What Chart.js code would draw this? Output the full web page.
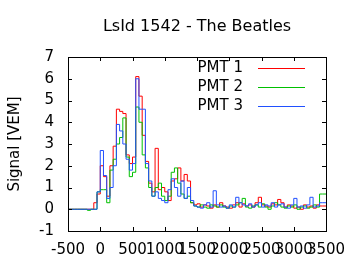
<!DOCTYPE html>
<html>
<head>
<meta charset="utf-8">
<script src="https://cdn.jsdelivr.net/npm/chart.js@4/dist/chart.umd.min.js"></script>
<style>
  html, body { margin: 0; padding: 0; background: #fff; }
  #wrap { width: 360px; height: 270px; }
</style>
</head>
<body>
<div id="wrap"><canvas id="trace"></canvas></div>
<script>
const titleText = "LsId 1542 - The Beatles";
const yLabel = "Signal [VEM]";
const binStart = -500;
const binWidth = 50;
const seriesNames = ["PMT 1", "PMT 2", "PMT 3"];
const seriesColors = ["#ff0000", "#00c000", "#2050ff"];

// signal per 50 ns bin, starting at -500
const pmt1 = [
  0, 0, 0, 0, 0, 0, 0, 0, 0, 0.3,
  0.7, 2.0, 1.5, 0.6, 2.0, 2.9, 4.6, 4.5, 4.4, 2.5,
  2.1, 2.4, 6.1, 5.2, 3.4, 2.2, 1.2, 0.8, 2.8, 0.9,
  1.0, 0.8, 0.4, 1.3, 1.4, 1.9, 1.3, 1.6, 1.3, 0.3,
  0.2, 0.25, 0.1, 0.2, 0.15, 0.05, 0.2, 0.1, 0.3, 0.15,
  0.1, 0.05, 0.2, 0.3, 0.1, 0.25, 0.15, 0.2, 0.1, 0.3,
  0.55, 0.2, 0.15, 0.1, 0.25, 0.2, 0.45, 0.3, 0.1, 0.2,
  0.15, 0.05, 0.1, 0.0, 0.2, 0.1, 0.15, 0.05, 0.2, 0.15
];
const pmt2 = [
  -0.05, 0, 0, 0, 0, 0, 0, -0.05, 0, 0,
  0.8, 0.9, 0.9, 0.3, 1.8, 2.3, 3.0, 3.3, 4.2, 2.4,
  1.5, 1.7, 4.7, 4.0, 2.5, 1.9, 1.0, 0.6, 1.0, 1.2,
  0.6, 0.4, 0.6, 1.7, 1.9, 1.2, 0.7, 0.5, 0.6, 0.3,
  0.15, 0.1, 0.2, 0.1, 0.05, 0.2, 0.15, 0.1, 0.2, 0.1,
  0.05, 0.15, 0.1, 0.2, 0.3, 0.5, 0.1, 0.05, 0.15, 0.2,
  0.1, 0.25, 0.1, 0.0, 0.15, 0.3, 0.2, 0.1, 0.05, 0.15,
  0.1, 0.2, 0.0, 0.1, 0.15, 0.05, 0.1, 0.2, 0.1, 0.7
];
const pmt3 = [
  0, 0, 0, 0, 0, 0, 0, 0, 0, 0,
  0.8, 2.7, 1.55, 0.5, 1.0, 2.0, 3.9, 3.6, 3.0, 2.3,
  1.8, 2.1, 6.0, 4.6, 4.6, 2.1, 1.3, 0.6, 0.8, 0.5,
  0.4, 0.3, 0.9, 1.4, 1.0, 0.6, 1.3, 0.5, 1.0, 0.4,
  0.15, 0.1, 0.05, 0.2, 0.3, 0.1, 0.85, 0.2, 0.1, 0.15,
  0.05, 0.2, 0.1, 0.55, 0.3, 0.2, 0.15, 0.25, 0.1, 0.2,
  0.3, 0.1, 0.2, 0.15, 0.3, 0.1, 0.2, 0.25, 0.1, 0.05,
  0.2, 0.5, 0.1, 0.15, 0.05, 0.2, 0.55, 0.1, 0.15, 0.3
];

const FONT = "'DejaVu Sans', sans-serif";

function toPoints(values) {
  let pts = values.map((v, i) => ({ x: binStart + i * binWidth, y: v }));
  pts.push({ x: binStart + values.length * binWidth, y: values[values.length - 1] });
  return pts;
}

// gnuplot-like frame, inward ticks, title, y label and legend
const framePlugin = {
  id: "frame",
  afterDraw(chart) {
    const { ctx, chartArea: a, scales } = chart;
    ctx.save();
    ctx.strokeStyle = "#000";
    ctx.lineWidth = 1;
    ctx.strokeRect(Math.round(a.left) + 0.5, Math.round(a.top) + 0.5,
      Math.round(a.right - a.left), Math.round(a.bottom - a.top));
    ctx.beginPath();
    scales.x.ticks.forEach((t) => {
      let px = Math.round(scales.x.getPixelForValue(t.value)) + 0.5;
      ctx.moveTo(px, a.bottom); ctx.lineTo(px, a.bottom - 4);
      ctx.moveTo(px, a.top); ctx.lineTo(px, a.top + 4);
    });
    scales.y.ticks.forEach((t) => {
      let py = Math.round(scales.y.getPixelForValue(t.value)) + 0.5;
      ctx.moveTo(a.left, py); ctx.lineTo(a.left + 4, py);
      ctx.moveTo(a.right, py); ctx.lineTo(a.right - 4, py);
    });
    ctx.stroke();

    ctx.fillStyle = "#000";
    ctx.font = "16px " + FONT;
    ctx.textAlign = "center";
    ctx.textBaseline = "middle";
    ctx.fillText(titleText, (a.left + a.right) / 2, 27);

    ctx.save();
    ctx.translate(15, (a.top + a.bottom) / 2);
    ctx.rotate(-Math.PI / 2);
    ctx.font = "15px " + FONT;
    ctx.fillText(yLabel, 0, 0);
    ctx.restore();

    ctx.font = "15px " + FONT;
    ctx.textAlign = "right";
    seriesNames.forEach((name, i) => {
      let y = 68 + i * 19;
      ctx.fillStyle = "#000";
      ctx.fillText(name, 243, y);
      ctx.strokeStyle = seriesColors[i];
      ctx.beginPath();
      ctx.moveTo(258, y + 0.5);
      ctx.lineTo(305, y + 0.5);
      ctx.stroke();
    });
    ctx.restore();
  },
};

const ctx = document.getElementById("trace").getContext("2d");
new Chart(ctx, {
  type: "line",
  data: {
    datasets: [pmt1, pmt2, pmt3].map((vals, i) => ({
      label: seriesNames[i],
      data: toPoints(vals),
      borderColor: seriesColors[i],
      borderWidth: 1,
      pointRadius: 0,
      stepped: "after",
      fill: false,
      order: 3 - i,
    })),
  },
  options: {
    responsive: true,
    maintainAspectRatio: false,
    animation: false,
    layout: { padding: { left: 0, right: 34, top: 57, bottom: 0 } },
    plugins: {
      legend: { display: false },
      title: { display: false },
      tooltip: { enabled: false },
    },
    scales: {
      x: {
        type: "linear",
        min: -500,
        max: 3500,
        ticks: {
          stepSize: 500, autoSkip: false, maxRotation: 0, padding: 10, color: "#000",
          font: { family: FONT, size: 15 },
          callback: (v) => String(v),
        },
        grid: { drawOnChartArea: false, drawTicks: false },
        border: { display: false },
        afterFit(scale) { scale.height = 39; },
      },
      y: {
        min: -1,
        max: 7,
        ticks: {
          stepSize: 1, padding: 14, color: "#000",
          font: { family: FONT, size: 15 },
          callback: (v) => String(v),
        },
        grid: { drawOnChartArea: false, drawTicks: false },
        border: { display: false },
        afterFit(scale) { scale.width = 68; },
      },
    },
  },
  plugins: [framePlugin],
});
</script>
</body>
</html>
